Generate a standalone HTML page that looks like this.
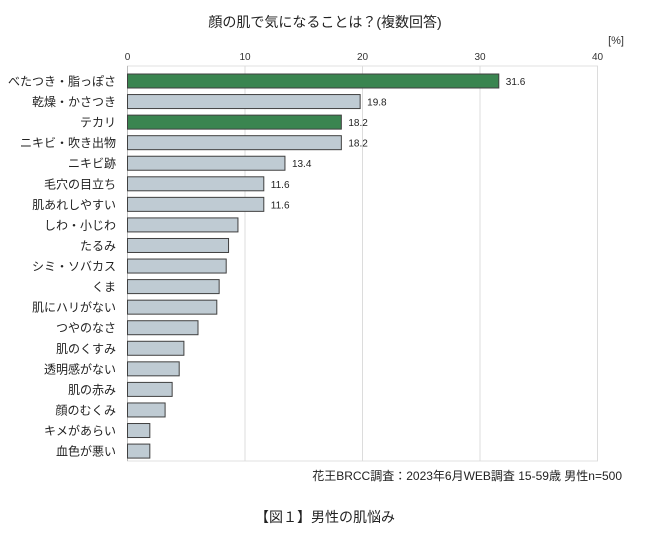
<!DOCTYPE html>
<html><head><meta charset="utf-8"><style>
body{margin:0;background:#fff;font-family:"Liberation Sans","Noto Sans CJK JP",sans-serif;}
svg text{font-family:"Liberation Sans","Noto Sans CJK JP",sans-serif;}
</style></head><body>
<svg width="650" height="535">
<text x="325" y="27" text-anchor="middle" font-size="14" fill="#222">顔の肌で気になることは？(複数回答)</text>
<text x="624" y="44" text-anchor="end" font-size="11" fill="#333">[%]</text>
<g id="plot"></g>
<text x="622" y="480" text-anchor="end" font-size="12" fill="#222">花王BRCC調査：2023年6月WEB調査 15-59歳 男性n=500</text>
<text x="325" y="522" text-anchor="middle" font-size="14" fill="#222">【図１】男性の肌悩み</text>
</svg>
<script>
const categories=["べたつき・脂っぽさ","乾燥・かさつき","テカリ","ニキビ・吹き出物","ニキビ跡","毛穴の目立ち","肌あれしやすい","しわ・小じわ","たるみ","シミ・ソバカス","くま","肌にハリがない","つやのなさ","肌のくすみ","透明感がない","肌の赤み","顔のむくみ","キメがあらい","血色が悪い"];
const values=[31.6,19.8,18.2,18.2,13.4,11.6,11.6,9.4,8.6,8.4,7.8,7.6,6.0,4.8,4.4,3.8,3.2,1.9,1.9];
const labels=["31.6","19.8","18.2","18.2","13.4","11.6","11.6","","","","","","","","","","","",""];
const highlight=[1,0,1,0,0,0,0,0,0,0,0,0,0,0,0,0,0,0,0];
const ticks=[0,10,20,30,40];
const NS="http://www.w3.org/2000/svg";
const g=document.getElementById('plot');
const x0=127.5,xs=11.75,plotTop=66,step=20.56,bh=14,plotBottom=461;
const X=v=>x0+v*xs;
function el(t,a){const e=document.createElementNS(NS,t);for(const k in a)e.setAttribute(k,a[k]);g.appendChild(e);return e;}
let fr=el('rect',{x:x0,y:plotTop,width:X(40)-x0,height:plotBottom-plotTop,fill:'none',stroke:'#e0e0e0'});


ticks.forEach(t=>{
 let l=el('line',{x1:X(t),x2:X(t),y1:plotTop,y2:plotBottom,stroke:'#dcdcdc'});
 
 
 let tx=el('text',{x:X(t),y:60,'text-anchor':'middle','font-size':'10',fill:'#333'});tx.textContent=t;
 
 
});
let ax=el('line',{x1:x0,x2:x0,y1:plotTop,y2:plotBottom,stroke:'#bbb'});


categories.forEach((c,i)=>{
 const y=plotTop+8+i*step;
 let r=el('rect',{x:x0,y:y,width:X(values[i])-x0,height:bh,fill:highlight[i]?'#3a8550':'#bfcbd3',stroke:'#404040','stroke-width':'1'});
 
 
 let t=el('text',{x:116,y:y+bh/2+4.5,'text-anchor':'end','font-size':'12',fill:'#222'});t.textContent=c;
 
 
 if(labels[i]){let v=el('text',{x:X(values[i])+7,y:y+bh/2+4,'font-size':'10',fill:'#222'});v.textContent=labels[i];
 
 }
});
</script>
</body></html>
